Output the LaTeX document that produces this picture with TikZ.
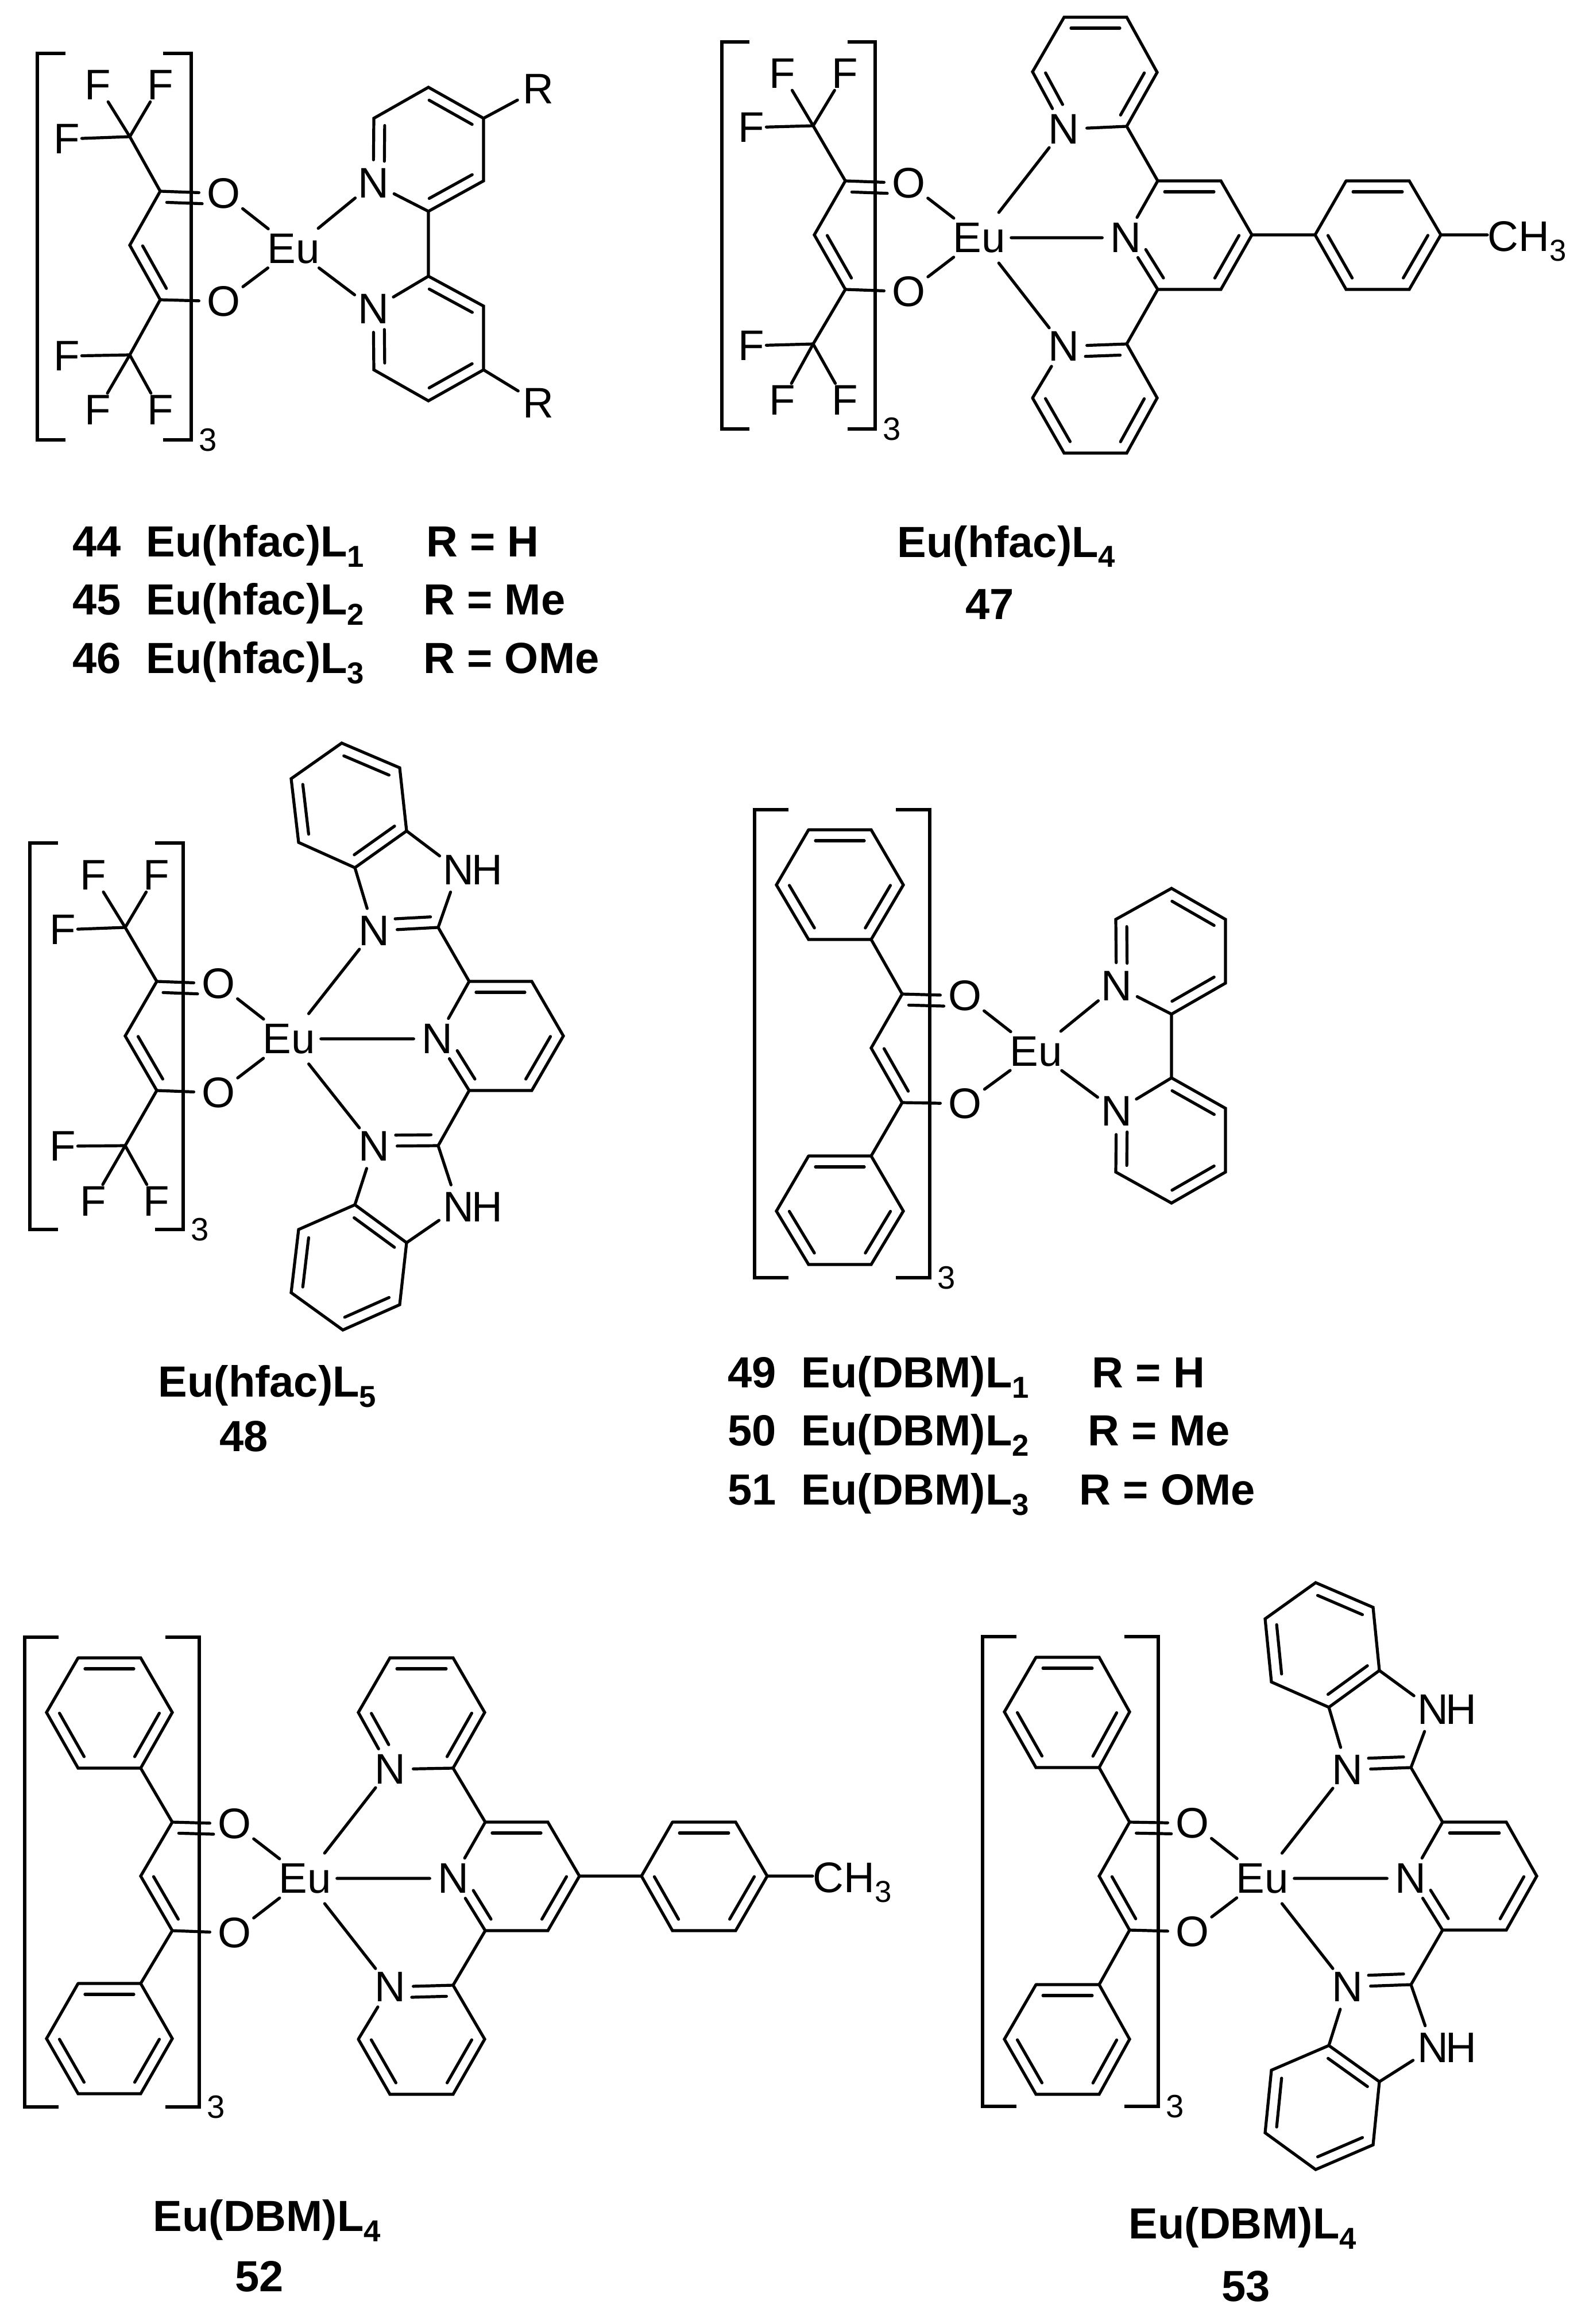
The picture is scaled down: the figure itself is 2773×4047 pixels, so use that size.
\documentclass[tikz,border=0pt]{standalone}
\usepackage{fontspec}
\setmainfont{Liberation Sans}
\usetikzlibrary{calc}

\tikzset{
	bond/.style={line width=.52mm, line cap=round},
	atom/.style={circle, inner sep=.2mm, font=\fontsize{21.2}{25}\selectfont},
	fluor/.style={inner sep=.3mm, font=\fontsize{21.2}{25}\selectfont},
	methyl/.style={anchor=base west, inner sep=0pt, font=\fontsize{21.2}{25}\selectfont},
	count/.style={inner sep=0pt, font=\fontsize{16}{18}\selectfont},
	lab/.style={anchor=base west, inner sep=0pt, font=\bfseries\fontsize{21.6}{26}\selectfont},
}
\def\bondgap{1.9mm}
\newcommand{\lsub}[1]{\raisebox{-1.8mm}{\fontsize{15}{18}\selectfont #1}}
% inner line of a double bond, on the left or right of a->b
\newcommand{\dbl}[3][.11]{\draw[bond] ($(#2)!.11!(#3)!\bondgap!90:(#3)$) -- ($(#3)!#1!(#2)!\bondgap!-90:(#2)$);}
\newcommand{\dblr}[3][.11]{\draw[bond] ($(#2)!.11!(#3)!\bondgap!-90:(#3)$) -- ($(#3)!#1!(#2)!\bondgap!90:(#2)$);}
\newcommand{\hexring}[7]{\draw[bond] (#2)--(#3)--(#4)--(#5)--(#6)--(#7)--(#2); #1{#2}{#3} #1{#4}{#5} #1{#6}{#7}}
\newcommand{\pyr}[7]{\draw[bond] (#2)--(#3)--(#4)--(#5)--(#6)--(#7)--(#2); #1{#2}{#3} #1{#4}{#5} #1[.34]{#6}{#7}}
\newcommand{\sqbr}[6]{%
	\draw[bond, line cap=butt] ({#2+#6},#4) -| (#2,#5) -- ({#2+#6},#5);
	\draw[bond, line cap=butt] ({#3-#6},#4) -| (#3,#5) -- ({#3-#6},#5);
	\node[count] (#1n) at ({#3+29},#5) {3};}
\newcommand{\diketo}[1]{%
	\draw[bond] (#1ka)--(#1kh)--(#1kb);
	\dbl{#1kh}{#1kb}
	\draw[bond] (#1ka)--(#1oa) (#1kb)--(#1ob) (#1oa)--(#1eu) (#1ob)--(#1eu);
	\dblr[.33]{#1ka}{#1oa}}
\newcommand{\cfthree}[1]{%
	\draw[bond] (#1ka)--(#1fa) (#1kb)--(#1fb);
	\foreach \i in {1,2,3} {\draw[bond] (#1fa)--(#1fa\i) (#1fb)--(#1fb\i);}}
\newcommand{\diphenyl}[1]{%
	\hexring{\dblr}{#1pa1}{#1pa2}{#1pa3}{#1pa4}{#1pa5}{#1pa6}
	\hexring{\dblr}{#1pb1}{#1pb2}{#1pb3}{#1pb4}{#1pb5}{#1pb6}
	\draw[bond] (#1pa4)--(#1ka) (#1pb2)--(#1kb);}
\newcommand{\bipy}[1]{%
	\pyr{\dbl}{#1t2}{#1t3}{#1t4}{#1t5}{#1t6}{#1tn}
	\pyr{\dblr}{#1b2}{#1b3}{#1b4}{#1b5}{#1b6}{#1bn}
	\draw[bond] (#1t2)--(#1b2) (#1tn)--(#1eu) (#1bn)--(#1eu);}
\newcommand{\terpy}[1]{%
	\pyr{\dblr}{#1c2}{#1c3}{#1c4}{#1c5}{#1c6}{#1cn}
	\pyr{\dbl}{#1t2}{#1t3}{#1t4}{#1t5}{#1t6}{#1tn}
	\pyr{\dbl}{#1b6}{#1b5}{#1b4}{#1b3}{#1b2}{#1bn}
	\hexring{\dblr}{#1p2}{#1p3}{#1p4}{#1p5}{#1p6}{#1p1}
	\draw[bond] (#1t2)--(#1c2) (#1b2)--(#1c6) (#1c4)--(#1p1) (#1p4)--(#1p4 -| #1me.west);
	\draw[bond] (#1cn)--(#1eu) (#1tn)--(#1eu) (#1bn)--(#1eu);}
\newcommand{\bzimpy}[1]{%
	\pyr{\dblr}{#1c2}{#1c3}{#1c4}{#1c5}{#1c6}{#1cn}
	\hexring{\dblr}{#1ta}{#1tb}{#1t1}{#1t2}{#1t3}{#1t4}
	\hexring{\dbl}{#1ba}{#1bb}{#1b1}{#1b2}{#1b3}{#1b4}
	\draw[bond] (#1tb)--(#1tn)--(#1tc)--(#1th)--(#1ta) (#1tc)--(#1c2);
	\draw[bond] (#1bb)--(#1bn)--(#1bc)--(#1bh)--(#1ba) (#1bc)--(#1c6);
	\dblr[.34]{#1tc}{#1tn}
	\dblr[.34]{#1bc}{#1bn}
	\draw[bond] (#1cn)--(#1eu) (#1tn)--(#1eu) (#1bn)--(#1eu);}

\begin{document}
\begin{tikzpicture}[x=.1mm, y=-.1mm]
	\useasboundingbox (0,0) rectangle (2773,4047);
	% Define carbons
	\foreach \n/\x/\y in {
		aka/279/333, akh/226/427, akb/279/522, afa/226/238, afb/226/618,
		at2/746/368, at3/842/315, at4/842/206, at5/746/152, at6/651/206,
		ab2/746/481, ab3/842/533, ab4/842/644, ab5/746/698, ab6/651/644,
		bka/1472/315, bkh/1418/409, bkb/1472/504, bfa/1416/219, bfb/1416/599,
		bc2/2016/315, bc3/2126/315, bc4/2180/409, bc5/2126/504, bc6/2016/504,
		bt2/1962/220, bt3/2015/126, bt4/1962/30, bt5/1853/30, bt6/1798/125,
		bb2/1962/599, bb3/2015/693, bb4/1962/789, bb5/1853/789, bb6/1798/693,
		bp1/2290/409, bp2/2344/315, bp3/2454/315, bp4/2509/409, bp5/2454/504, bp6/2344/504,
		cka/273/1709, ckh/218/1804, ckb/273/1899, cfa/218/1615, cfb/218/1995,
		cc2/817/1709, cc3/926/1709, cc4/981/1804, cc5/926/1899, cc6/817/1899,
		ctc/763/1615, cta/708/1447, ctb/618/1511, ct1/520/1467, ct2/507/1356, ct3/595/1294, ct4/696/1337,
		cbc/763/1995, cba/708/2164, cbb/618/2098, cb1/520/2141, cb2/507/2251, cb3/597/2316, cb4/696/2272,
		dka/1571/1731, dkh/1517/1825, dkb/1571/1920,
		dpa1/1408/1445, dpa2/1517/1445, dpa3/1573/1541, dpa4/1517/1636, dpa5/1408/1636, dpa6/1352/1541,
		dpb1/1408/2013, dpb2/1517/2013, dpb3/1573/2109, dpb4/1517/2202, dpb5/1408/2202, dpb6/1352/2109,
		dt2/2040/1766, dt3/2134/1712, dt4/2134/1601, dt5/2040/1547, dt6/1943/1601,
		db2/2040/1877, db3/2134/1930, db4/2134/2041, db5/2040/2095, db6/1943/2041,
		eka/300/3173, ekh/245/3267, ekb/300/3362,
		epa1/136/2887, epa2/245/2887, epa3/300/2982, epa4/245/3079, epa5/136/3079, epa6/81/2982,
		epb1/136/3454, epb2/245/3454, epb3/300/3550, epb4/245/3646, epb5/136/3646, epb6/81/3550,
		ec2/845/3173, ec3/954/3173, ec4/1009/3267, ec5/954/3362, ec6/845/3362,
		et2/789/3079, et3/844/2982, et4/789/2887, et5/679/2887, et6/624/2982,
		eb2/789/3457, eb3/844/3551, eb4/789/3647, eb5/679/3647, eb6/624/3551,
		ep1/1117/3267, ep2/1171/3173, ep3/1281/3173, ep4/1336/3267, ep5/1281/3362, ep6/1171/3362,
		fka/1967/3173, fkh/1914/3267, fkb/1967/3361,
		fpa1/1804/2886, fpa2/1914/2886, fpa3/1967/2981, fpa4/1914/3078, fpa5/1804/3078, fpa6/1749/2981,
		fpb1/1804/3456, fpb2/1914/3456, fpb3/1967/3551, fpb4/1914/3647, fpb5/1804/3647, fpb6/1749/3551,
		fc2/2512/3173, fc3/2623/3173, fc4/2676/3267, fc5/2623/3361, fc6/2512/3361,
		ftc/2457/3078, fta/2402/2909, ftb/2314/2973, ft1/2214/2929, ft2/2203/2819, ft3/2291/2756, ft4/2391/2799,
		fbc/2457/3456, fba/2402/3625, fbb/2314/3562, fb1/2214/3605, fb2/2203/3714, fb3/2291/3778, fb4/2391/3735}
		\coordinate (\n) at (\x,\y);
	% Define atoms
	\foreach \n/\s/\x/\y in {
		aoa/O/389/337, aob/O/389/525, aeu/Eu/511/433, atn/N/650/319, abn/N/650/538, atr/R/937/155, abr/R/937/702,
		boa/O/1582/319, bob/O/1582/508, beu/Eu/1705/414, bcn/N/1960/414, btn/N/1852/225, bbn/N/1852/603,
		coa/O/380/1713, cob/O/380/1903, ceu/Eu/503/1809, ccn/N/761/1809, ctn/N/651/1621, cbn/N/651/1996,
		cth/N/798/1515, ctx/H/848/1515, cbh/N/798/2102, cbx/H/848/2102,
		doa/O/1680/1734, dob/O/1680/1922, deu/Eu/1804/1831, dtn/N/1944/1717, dbn/N/1944/1935,
		eoa/O/408/3176, eob/O/408/3366, eeu/Eu/531/3271, ecn/N/789/3271, etn/N/679/3081, ebn/N/679/3460,
		foa/O/2076/3175, fob/O/2076/3364, feu/Eu/2198/3271, fcn/N/2456/3271, ftn/N/2346/3082, fbn/N/2346/3460,
		fth/N/2495/2977, ftx/H/2544/2977, fbh/N/2495/3566, fbx/H/2544/3566}
		\node[atom] (\n) at (\x,\y) {\s};
	\foreach \n/\x/\y in {
		afa1/170/148, afa2/279/148, afa3/116/242, afb1/116/620, afb2/170/714, afb3/279/714,
		bfa1/1362/128, bfa2/1471/128, bfa3/1308/222, bfb1/1308/602, bfb2/1362/697, bfb3/1471/697,
		cfa1/162/1524, cfa2/272/1524, cfa3/109/1619, cfb1/109/1996, cfb2/162/2092, cfb3/272/2092}
		\node[fluor] (\n) at (\x,\y) {F};
	\node[methyl] (bme) at (2590,438) {CH\raisebox{-1.7mm}{\fontsize{15}{16}\selectfont 3}};
	\node[methyl] (eme) at (1415,3295) {CH\raisebox{-1.7mm}{\fontsize{15}{16}\selectfont 3}};
	% Bonds
	\diketo{a} \cfthree{a} \bipy{a}
	\draw[bond] (at4)--(atr) (ab4)--(abr);
	\diketo{b} \cfthree{b} \terpy{b}
	\diketo{c} \cfthree{c} \bzimpy{c}
	\diketo{d} \diphenyl{d} \bipy{d}
	\diketo{e} \diphenyl{e} \terpy{e}
	\diketo{f} \diphenyl{f} \bzimpy{f}
	% Brackets
	\sqbr{a}{65}{333}{93}{766}{49}
	\sqbr{b}{1257}{1524}{73}{747}{48}
	\sqbr{c}{52}{319}{1468}{2141}{49}
	\sqbr{d}{1314}{1619}{1410}{2225}{59}
	\sqbr{e}{43}{347}{2851}{3669}{59}
	\sqbr{f}{1711}{2017}{2850}{3668}{59}
	% Labels
	\foreach \n/\s/\x/\y in {
		la1/{44}/126/969, la2/{Eu(hfac)L\lsub{1}}/254/969, la3/{R = H}/742/969,
		la4/{45}/126/1070, la5/{Eu(hfac)L\lsub{2}}/254/1070, la6/{R = Me}/737/1070,
		la7/{46}/126/1172, la8/{Eu(hfac)L\lsub{3}}/254/1172, la9/{R = OMe}/737/1172,
		lb1/{Eu(hfac)L\lsub{4}}/1562/970, lb2/{47}/1681/1078,
		lc1/{Eu(hfac)L\lsub{5}}/275/2432, lc2/{48}/382/2527,
		ld1/{49}/1267/2416, ld2/{Eu(DBM)L\lsub{1}}/1395/2416, ld3/{R = H}/1901/2416,
		ld4/{50}/1267/2517, ld5/{Eu(DBM)L\lsub{2}}/1395/2517, ld6/{R = Me}/1894/2517,
		ld7/{51}/1267/2620, ld8/{Eu(DBM)L\lsub{3}}/1395/2620, ld9/{R = OMe}/1879/2620,
		le1/{Eu(DBM)L\lsub{4}}/266/3885, le2/{52}/409/3990,
		lf1/{Eu(DBM)L\lsub{4}}/1965/3898, lf2/{53}/2127/4007}
		\node[lab] (\n) at (\x,\y) {\s};
\end{tikzpicture}
\end{document}
